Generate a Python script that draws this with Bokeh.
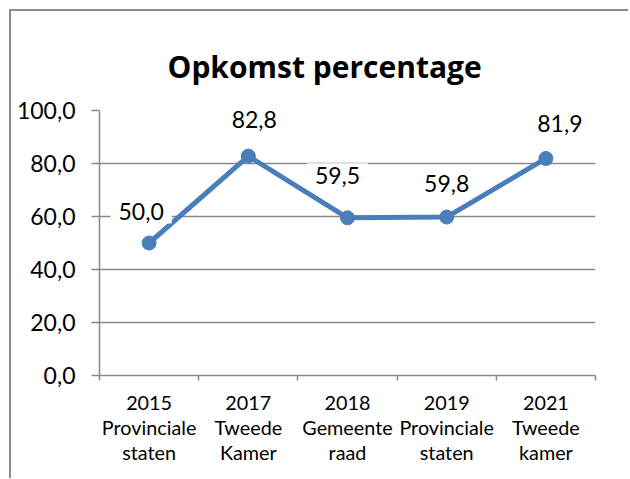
from bokeh.plotting import figure
from bokeh.models import Range1d, FixedTicker, Label
from bokeh.embed import file_html
from bokeh.resources import INLINE

# ---- data ----
years = ["2015", "2017", "2018", "2019", "2021"]
election_line1 = ["Provinciale", "Tweede", "Gemeente", "Provinciale", "Tweede"]
election_line2 = ["staten", "Kamer", "raad", "staten", "kamer"]
turnout = [50.0, 82.8, 59.5, 59.8, 81.9]
y_ticks = [0, 20, 40, 60, 80, 100]
y_tick_labels = ["0,0", "20,0", "40,0", "60,0", "80,0", "100,0"]
title_text = "Opkomst percentage"

# label nudges (pixels), style only
label_dx = [-8, 6, -10, 0, 14]
label_dy = [32, 37, 42, 34, 35]

FONT = "Lato"
BLUE = "#4a7ebb"
GRID = "#898989"
EDGE = "#8c8c8c"

n = len(years)
xs = [i + 0.5 for i in range(n)]

p = figure(width=619, height=478, output_backend="svg", toolbar_location=None,
           x_range=Range1d(0, n), y_range=Range1d(0, 100),
           min_border_left=90, min_border_right=33, min_border_top=110,
           min_border_bottom=103)
p.margin = (0, 0, 0, 9)
# chart-area edge (left and top) drawn behind a transparent outer fill
p.styles = {
    "background": (f"linear-gradient({EDGE},{EDGE}) 0px 9px / 2px calc(100% - 9px) no-repeat, "
                   f"linear-gradient({EDGE},{EDGE}) 0px 9px / 100% 2px no-repeat, #ffffff"),
}
p.border_fill_alpha = 0.0

p.title.text = title_text
p.title.text_font = "Open Sans"
p.title.text_font_style = "bold"
p.title.text_font_size = "30px"
p.title.text_color = "black"
p.title.align = "left"
p.title.offset = 68
p.title.vertical_align = "top"
p.title.standoff = 44
p.outline_line_color = None
p.background_fill_color = "white"

# y axis
ya = p.yaxis[0]
ya.ticker = FixedTicker(ticks=y_ticks, minor_ticks=[])
ya.major_label_overrides = {t: l for t, l in zip(y_ticks, y_tick_labels)}
ya.major_label_text_font = FONT
ya.major_label_text_font_size = "23px"
ya.major_label_text_color = "black"
ya.major_tick_out = 8
ya.major_tick_in = 0
ya.major_label_standoff = 16
ya.axis_line_color = GRID
ya.axis_line_width = 1.5
ya.major_tick_line_color = GRID
ya.major_tick_line_width = 1.5
ya.minor_tick_line_color = None

# x axis
xa = p.xaxis[0]
xa.ticker = FixedTicker(ticks=xs, minor_ticks=list(range(n + 1)))
xa.major_label_overrides = {x: f"{a}\n{b}\n{c}" for x, a, b, c in
                            zip(xs, years, election_line1, election_line2)}
xa.major_label_text_font = FONT
xa.major_label_text_font_size = "19.8px"
xa.major_label_text_color = "black"
xa.major_label_text_line_height = 1.05
xa.major_tick_line_color = None
xa.major_tick_out = 5
xa.major_label_standoff = 9
xa.minor_tick_out = 5
xa.minor_tick_in = 0
xa.minor_tick_line_color = GRID
xa.minor_tick_line_width = 1.5
xa.axis_line_color = GRID
xa.axis_line_width = 1.5

p.xgrid.grid_line_color = None
p.ygrid.ticker = FixedTicker(ticks=y_ticks)
p.ygrid.grid_line_color = GRID
p.ygrid.grid_line_width = 1.5

p.line(xs, turnout, line_color=BLUE, line_width=5)
p.scatter(xs, turnout, size=14, fill_color=BLUE, line_color=BLUE)

for x, v, dx, dy in zip(xs, turnout, label_dx, label_dy):
    p.add_layout(Label(x=x, y=v, text=f"{v:.1f}".replace(".", ","),
                       x_offset=dx, y_offset=dy,
                       text_align="center", text_baseline="middle",
                       text_font=FONT, text_font_size="23px", text_color="black",
                       background_fill_color="white",
                       padding={"left": 8, "right": 8, "top": 4, "bottom": 4}))

open("out.html", "w").write(file_html(p, INLINE))
